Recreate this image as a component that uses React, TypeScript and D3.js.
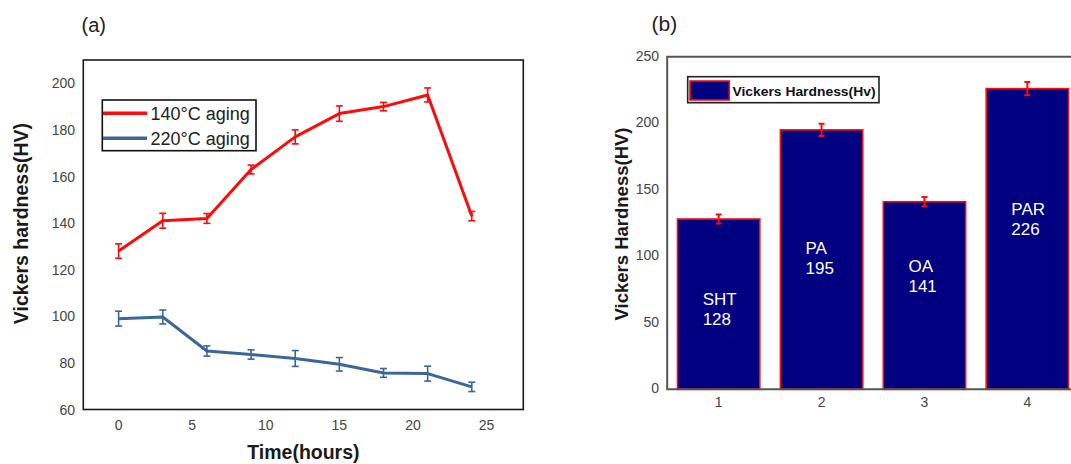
import {useEffect, useRef} from "react";
import * as d3 from "d3";

// (a) aging curves
const hours = [0, 3, 6, 9, 12, 15, 18, 21, 24];
const hv140 = [128, 141, 142, 163, 177, 187, 190, 195, 143];
const err140 = [3.1, 3.2, 2.1, 1.9, 3, 3.3, 1.8, 3, 2];
const hv220 = [99, 99.7, 85.1, 83.6, 81.9, 79.4, 75.7, 75.4, 69.7];
const err220 = [3.2, 3, 2.2, 2, 3.4, 2.9, 1.9, 3.2, 2];
const hoursTicks = [0, 5, 10, 15, 20, 25];
const hvTicks = [60, 80, 100, 120, 140, 160, 180, 200];

// (b) heat treatment bars
const conditions = [1, 2, 3, 4];
const treatments = ["SHT", "PA", "OA", "PAR"];
const hardness = [128, 195, 141, 226];
const hardnessErr = [3.4, 4.6, 3.5, 5.0];
const labelAt = [63, 102, 88, 131]; // annotation height inside each bar, in HV
const barTicks = [0, 50, 100, 150, 200, 250];

const FONT = "'Liberation Sans', Arial, sans-serif";
const RED = "#ff0a0a";
const BLUE = "#3a679a";
const NAVY = "#000080";

function App() {
    const ref = useRef<SVGSVGElement>(null);

    useEffect(() => {
        const svg = d3.select(ref.current);
        svg.selectAll("*").remove();

        // ---------- chart (a) ----------
        const x = d3.scaleLinear().domain([-2.4, 27.5]).range([83.3, 523.3]);
        const y = d3.scaleLinear().domain([60, 210]).range([409.5, 60]);
        const a = svg.append("g");

        a.append("rect")
            .attr("x", x.range()[0]).attr("y", y.range()[1])
            .attr("width", x.range()[1] - x.range()[0])
            .attr("height", y.range()[0] - y.range()[1])
            .attr("fill", "none").attr("stroke", "#1a1a1a").attr("stroke-width", 1.6);

        a.selectAll(".xt").data(hoursTicks).enter().append("text")
            .attr("x", d => x(d)).attr("y", 429.5)
            .attr("text-anchor", "middle").attr("font-size", 14).attr("fill", "#444")
            .text(d => d);

        a.selectAll(".yt").data(hvTicks).enter().append("text")
            .attr("x", 75).attr("y", d => y(d) + 5)
            .attr("text-anchor", "end").attr("font-size", 14).attr("fill", "#444")
            .text(d => d);

        const series = [
            {vals: hv140, errs: err140, color: RED},
            {vals: hv220, errs: err220, color: BLUE},
        ];

        const line = d3.line<number>()
            .x((_, i) => x(hours[i]))
            .y(d => y(d));

        series.forEach(s => {
            a.append("path")
                .datum(s.vals)
                .attr("d", line)
                .attr("fill", "none")
                .attr("stroke", s.color)
                .attr("stroke-width", 3)
                .attr("stroke-linejoin", "round");

            const eb = a.selectAll(null).data(s.vals).enter().append("g")
                .attr("stroke", s.color).attr("stroke-width", 1.6);
            eb.append("line")
                .attr("x1", (_, i) => x(hours[i])).attr("x2", (_, i) => x(hours[i]))
                .attr("y1", (d, i) => y(d + s.errs[i])).attr("y2", (d, i) => y(d - s.errs[i]));
            eb.append("line")
                .attr("x1", (_, i) => x(hours[i]) - 3.5).attr("x2", (_, i) => x(hours[i]) + 3.5)
                .attr("y1", (d, i) => y(d + s.errs[i])).attr("y2", (d, i) => y(d + s.errs[i]));
            eb.append("line")
                .attr("x1", (_, i) => x(hours[i]) - 3.5).attr("x2", (_, i) => x(hours[i]) + 3.5)
                .attr("y1", (d, i) => y(d - s.errs[i])).attr("y2", (d, i) => y(d - s.errs[i]));
        });

        // legend (a)
        a.append("rect")
            .attr("x", 102.3).attr("y", 100).attr("width", 153.7).attr("height", 50.7)
            .attr("fill", "white").attr("stroke", "#111").attr("stroke-width", 1.6);
        const leg = [{t: "140°C aging", c: RED, yy: 113.3}, {t: "220°C aging", c: BLUE, yy: 138.3}];
        leg.forEach(l => {
            a.append("line").attr("x1", 103).attr("x2", 147).attr("y1", l.yy).attr("y2", l.yy)
                .attr("stroke", l.c).attr("stroke-width", 3.5);
            a.append("text").attr("x", 150.5).attr("y", l.yy + 6.3)
                .attr("font-size", 18).attr("fill", "#222").text(l.t);
        });

        a.append("text")
            .attr("x", 303.4).attr("y", 458.5).attr("text-anchor", "middle")
            .attr("font-size", 19.5).attr("font-weight", "bold").attr("fill", "#1a1a1a")
            .text("Time(hours)");
        a.append("text")
            .attr("transform", "translate(28.4,223.5) rotate(-90)")
            .attr("text-anchor", "middle")
            .attr("font-size", 19.5).attr("font-weight", "bold").attr("fill", "#1a1a1a")
            .text("Vickers hardness(HV)");
        a.append("text").attr("x", 81.5).attr("y", 31.5)
            .attr("font-size", 20).attr("fill", "#222").text("(a)");

        // ---------- chart (b) ----------
        const xb = d3.scaleLinear().domain([0.5, 4.5]).range([667.2, 1078.8]);
        const yb = d3.scaleLinear().domain([0, 250]).range([389.3, 56.7]);
        const b = svg.append("g");
        const bw = (xb(2) - xb(1)) * 0.8;

        b.selectAll(".bar").data(hardness).enter().append("rect")
            .attr("x", (_, i) => xb(conditions[i]) - bw / 2)
            .attr("y", d => yb(d))
            .attr("width", bw)
            .attr("height", d => yb(0) - yb(d))
            .attr("fill", NAVY).attr("stroke", RED).attr("stroke-width", 1.6);

        const ebb = b.selectAll(null).data(hardness).enter().append("g")
            .attr("stroke", RED).attr("stroke-width", 2);
        ebb.append("line")
            .attr("x1", (_, i) => xb(conditions[i])).attr("x2", (_, i) => xb(conditions[i]))
            .attr("y1", (d, i) => yb(d + hardnessErr[i])).attr("y2", (d, i) => yb(d - hardnessErr[i]));
        [1, -1].forEach(sg => {
            ebb.append("line")
                .attr("x1", (_, i) => xb(conditions[i]) - 3).attr("x2", (_, i) => xb(conditions[i]) + 3)
                .attr("y1", (d, i) => yb(d + sg * hardnessErr[i])).attr("y2", (d, i) => yb(d + sg * hardnessErr[i]));
        });

        const lbl = b.selectAll(".lbl").data(hardness).enter().append("g");
        lbl.append("text")
            .attr("x", (_, i) => xb(conditions[i]) - 16).attr("y", (_, i) => yb(labelAt[i]))
            .attr("font-size", 17).attr("fill", "white").text((_, i) => treatments[i]);
        lbl.append("text")
            .attr("x", (_, i) => xb(conditions[i]) - 16).attr("y", (_, i) => yb(labelAt[i]) + 20)
            .attr("font-size", 17).attr("fill", "white").text(d => d);

        // frame: left, top, bottom (right side runs off the page)
        b.append("path")
            .attr("d", `M${xb.range()[1]},${yb.range()[1]}H${xb.range()[0]}V${yb.range()[0]}H${xb.range()[1]}`)
            .attr("fill", "none").attr("stroke", "#555").attr("stroke-width", 2);

        b.selectAll(".xt").data(conditions).enter().append("text")
            .attr("x", d => xb(d)).attr("y", 406.7)
            .attr("text-anchor", "middle").attr("font-size", 14).attr("fill", "#444")
            .text(d => d);
        b.selectAll(".yt").data(barTicks).enter().append("text")
            .attr("x", 659).attr("y", d => yb(d) + 4)
            .attr("text-anchor", "end").attr("font-size", 14).attr("fill", "#444")
            .text(d => d);

        // legend (b)
        b.append("rect")
            .attr("x", 687.7).attr("y", 76.7).attr("width", 191.3).attr("height", 26)
            .attr("fill", "white").attr("stroke", "#222").attr("stroke-width", 1.6);
        b.append("rect")
            .attr("x", 690).attr("y", 81).attr("width", 39.3).attr("height", 19)
            .attr("fill", NAVY).attr("stroke", RED).attr("stroke-width", 1.6);
        b.append("text").attr("x", 732.5).attr("y", 95.5)
            .attr("font-size", 13.5).attr("font-weight", "bold").attr("fill", "#111")
            .attr("textLength", 143).attr("lengthAdjust", "spacingAndGlyphs")
            .text("Vickers Hardness(Hv)");

        b.append("text")
            .attr("transform", "translate(628,224) rotate(-90)")
            .attr("text-anchor", "middle")
            .attr("font-size", 18.5).attr("font-weight", "bold").attr("fill", "#1a1a1a")
            .text("Vickers Hardness(HV)");
        b.append("text").attr("x", 651.5).attr("y", 31)
            .attr("font-size", 21).attr("fill", "#222").text("(b)");
    }, []);

    return (
        <svg ref={ref} width={1071} height={464} fontFamily={FONT}
             style={{position: "absolute", left: 0, top: 0, background: "white"}}></svg>
    );
}

export default App;
